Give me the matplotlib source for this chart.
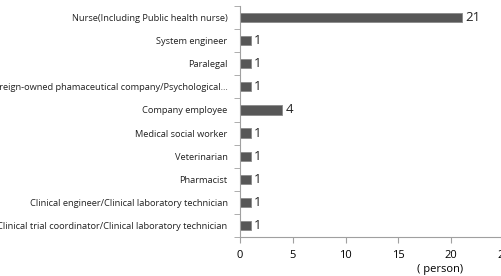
import matplotlib.pyplot as plt
import numpy as np

plt.rcParams['font.family'] = ['Open Sans', 'DejaVu Sans']

# Data (top to bottom as in the chart)
jobs = ['Nurse(Including Public health nurse)', 'System engineer', 'Paralegal',
        'Foreign-owned phamaceutical company/Psychological…', 'Company employee',
        'Medical social worker', 'Veterinarian', 'Pharmacist',
        'Clinical engineer/Clinical laboratory technician',
        'Clinical trial coordinator/Clinical laboratory technician']
counts = [21, 1, 1, 1, 4, 1, 1, 1, 1, 1]
x_ticks = [0, 5, 10, 15, 20, 25]

fig = plt.figure(figsize=(5.01, 2.76), dpi=100)
ax = fig.add_axes([240/501, 1 - 237/276, 264/501, 231/276])

y = np.arange(len(jobs))[::-1]
ax.barh(y, counts, height=0.4, color='#575757', edgecolor='#8a8a8a', linewidth=0.6)

for yi, c in zip(y, counts):
    ax.text(c + 0.35, yi, str(c), va='center', ha='left', fontsize=9.5, color='#222222')

ax.set_xlim(0, 25)
ax.set_ylim(-0.5, len(jobs) - 0.5)
ax.set_xticks(x_ticks)
ax.set_xticklabels([str(t) for t in x_ticks], fontsize=8)
ax.set_yticks(y)
ax.set_yticklabels(jobs, fontsize=6.7, color='#222222')
ax.tick_params(axis='y', length=0, pad=9)
ax.set_yticks(np.arange(-0.5, len(jobs)), minor=True)
ax.tick_params(axis='y', which='minor', length=4, color='#a0a0a0', direction='out')
ax.tick_params(axis='x', length=4, color='#a0a0a0', direction='out', pad=5)

for s in ['top', 'right']:
    ax.spines[s].set_visible(False)
for s in ['left', 'bottom']:
    ax.spines[s].set_color('#a0a0a0')
    ax.spines[s].set_linewidth(0.8)

fig.text(440/501, 1 - 264/276, '( person)', fontsize=8, ha='center', va='top')

fig.savefig('out.png', dpi=100)
